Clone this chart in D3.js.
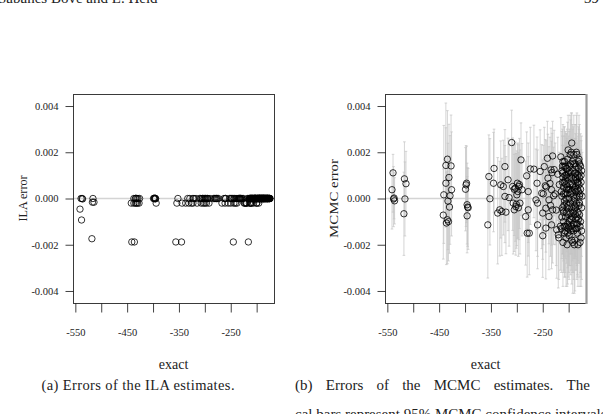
<!DOCTYPE html>
<html>
<head>
<meta charset="utf-8">
<script src="https://cdn.jsdelivr.net/npm/d3@7"></script>
<style>
body { margin:0; background:#fff; }
svg { display:block; font-family:"Liberation Serif","DejaVu Serif",serif; }
</style>
</head>
<body>
<svg id="fig" width="603" height="414"></svg>
<script>

// exact log marginal likelihood of each model (x axis, shared by both panels)
const exact = [
	-541,-539,-538,-537,-536,
	-518,-517,-516,-514,
	-442,-441,-437,-437,-436,-434,-434,-433,-432,-431,-430,-429,-427,-426,
	-399,-398,-397,-396,-396,-395,-394,
	-356,-354,-352,-345,-344,-337,-333,-331,-329,-326,
	-323,-323,-321,-317,-315,-310,-308,-307,-305,-305,
	-303,-302,-301,-300,-299,-298,-297,-296,-295,-294,
	-292,-290,-283,-281,-280,-278,-278,-276,-274,-267,
	-263,-261,-260,-260,-255,-252,-250,-250,-249,-247,
	-245,-244,-244,-243,-241,-240,-238,-238,-236,-235,
	-234,-233,-233,-232,-231,-231,-229,-228,-226,-224,
	-223,-220,
	-221,-219,-218,-216,-215,-214,-213,-212,-211,-210,
	-209,-208,-207,-206,-205,-204,-203,-202,-201,-200,
	-199,-198,-197,-196,-195,-194,-193,-192,-191,-190,
	-189,-188,-187,-186,-185,-184,-183,-182,-181,-180,
	-179,-178,-177,-176,-175,
	-214,-212,-210,-209,-207,-205,-204,-202,-200,-199,
	-197,-196,-194,-193,-191,-190,-188,-187,-186,-184,
	-183,-182,-180,-179,-178,-177,-176,-175,-174,
	-213,-211,-209,-208,-206,-205,-203,-201,-200,-198,
	-197,-195,-194,-192,-191,-189,-188,-186,-185,-184,
	-182,-181,-179,-178,-176,-175,
	-212,-210,-207,-204,-202,-199,-196,-193,-190,-187,
	-185,-183,-180,-177,-203,-195,-189,-181,
	-213,-211,-209,-207,-205,-203,-201,-199,-197,-195,
	-193,-191,-189,-187,-185,-183,-181,-179,-212,-208,
	-204,-200,-196,-192,-188,-184,-180,-210,-206,-202,
	-198,-194,-190,-186,-182,-211,-203,-195,-187,-179
];

// error of the ILA estimate
const ila_error = [
	-0.00046,0,-0.00093,0,-0.00002,
	-0.00174,-0.00016,0,-0.00016,
	-0.0002,-0.00188,0,-0.0002,-0.00188,0,-0.0002,0.00001,-0.0002,0,-0.0002,0,-0.0002,0,
	0,0,0.00002,0,-0.00002,0,-0.0002,
	-0.00188,-0.0002,0,-0.00188,-0.0002,-0.0002,0,-0.0002,0,-0.0002,
	0,-0.0002,0,0,-0.0002,0,0,-0.0002,0,0,
	-0.0002,0,0,-0.0002,0,0,-0.0002,0,0,0,
	-0.0002,0,0,0,0,0,0,0,0,-0.0002,
	0,-0.0002,0,0,-0.0002,0,-0.0002,0,0,0,
	-0.00188,-0.0002,0,0,-0.0002,0,-0.0002,0,0,0,
	0,0,0,0,0,0,0,0,0,-0.0002,
	-0.0002,-0.0002,
	-0.0002,-0.0002,0,-0.00188,0,-0.0002,0,0,-0.0002,0,
	0,0,0,-0.0002,0,0,0,0,0,-0.0002,
	0,0,0,0,0,0,0,0,0,0,
	0,0,0,0,0,0,0,0,0,0,
	0,0,0,0,0,
	0,0,-0.0002,0,0,0,0,0,0,0,
	0,0,0,0,0,0,0,0,0,0,
	0,0,0,0,0,0,0,0,0,
	0,0,0,0,0,0,0,0,0,0,
	0,0,0,0,0,0,0,0,0,0,
	0,0,0,0,0,0,
	0,0,0,0,0,0,0,0,0,0,
	0,0,0,0,0,0,0,0,
	0,0,0,0,0,0,0,0,0,0,
	0,0,0,0,0,0,0,0,-0.0002,0,
	0,-0.0002,-0.0002,0,0,0,0,0,0,0,
	0,0,0,0,0,0,0,0,0,0
];

// error of the MCMC estimate
const mcmc_error = [
	0.00038,0.00111,-0.00002,0.00002,-0.0001,
	-0.00066,0.00085,-0.00002,0.00064,
	-0.00072,0.00016,0.00143,0.00066,-0.00106,0.0017,-0.00092,-0.00011,-0.001,0.00091,-0.00037,0.00012,0.00141,0.00038,
	0.0004,0.00059,0.00066,-0.00027,-0.00075,-0.00037,-0.0004,
	-0.00114,0.00095,-0.00001,0.00066,0.0013,-0.00063,-0.00049,0.00059,-0.00056,0.00052,
	0.00138,0.00009,-0.00059,0.00081,0.00004,0.00242,0.00052,-0.0002,0.0004,-0.00049,
	0.00045,-0.00035,-0.00025,0.00016,0.00066,0.0003,-0.0004,0.00052,0.0006,-0.0002,
	0.00167,0.00038,-0.00078,0.00098,-0.0015,0.0003,-0.00049,-0.0015,0.00128,0.00127,
	-0.00006,0.00066,-0.0002,-0.00114,0.00117,0.00023,-0.00063,-0.00161,0.0002,0.00138,
	0.00055,-0.00042,-0.00128,0.0005,0.00174,0.00088,-0.00006,-0.00078,0.00065,-0.0003,
	0.00124,0.00038,-0.00114,0.00112,0.00184,-0.00049,0.00012,0.00125,0.0002,-0.0005,
	-0.00135,-0.00157,
	0.00105,-0.0017,0.0006,-0.0012,0.0018,0.0003,-0.0008,0.0011,-0.0019,0.0005,
	-0.0003,0.0016,-0.0014,0.0008,0.0000,-0.0006,0.0013,-0.0011,0.0021,0.0004,
	-0.0016,0.0009,-0.0002,0.0015,-0.0009,0.0024,0.0006,-0.0019,0.0001,0.0019,
	-0.0005,0.0011,-0.0013,0.0003,0.0020,-0.0008,0.0007,-0.0020,0.0013,-0.0003,
	0.0009,-0.0012,0.0004,-0.0017,0.0012,
	-0.0013,0.0007,-0.0010,0.0014,0.0002,-0.0017,0.0010,0.0017,-0.0007,0.0012,
	0.0006,-0.0014,-0.0004,0.0016,-0.0011,0.0008,-0.0018,0.0005,0.0014,0.0001,
	-0.0015,0.0010,0.0017,-0.0007,0.0002,-0.0010,0.0007,-0.0004,0.0001,
	0.0001,0.0009,-0.0012,-0.0001,-0.0008,0.0006,-0.0004,-0.0013,0.0011,-0.0009,
	0.0019,0.0003,-0.0018,0.0012,-0.0006,0.0004,0.0015,-0.0009,-0.0002,0.0019,
	-0.0006,0.0003,0.0015,-0.0019,0.0010,-0.0014,
	-0.0004,0.0002,0.0010,-0.0002,0.0005,0.0000,0.0002,-0.0008,-0.0001,0.0009,
	-0.0011,0.0004,0.0006,0.0014,-0.0020,0.0020,-0.0020,-0.0009,
	0.0012,-0.0005,0.0007,-0.0012,0.0013,0.0009,-0.0003,-0.0010,0.0004,0.0011,
	-0.0013,0.0015,0.0000,-0.0007,0.0008,-0.0011,0.0016,0.0001,0.0014,-0.0015,
	0.0004,-0.0012,-0.0006,0.0005,-0.0003,-0.0013,0.0011,-0.0006,0.0014,-0.0015,
	0.0014,0.0009,-0.0014,0.0011,0.0007,0.0016,0.0002,-0.0012,-0.0004,-0.0002
];

// distance from the MCMC estimate to the upper / lower 95% confidence limit
const ci_above = [
	0.0008,0.0008,0.0014,0.0011,0.0010,
	0.0018,0.0016,0.0016,0.0014,
	0.0020,0.0030,0.0027,0.0024,0.0022,0.0021,0.0021,0.0025,0.0020,0.0023,0.0022,0.0026,0.0022,0.0025,
	0.0018,0.0017,0.0016,0.0018,0.0017,0.0017,0.0017,
	0.0022,0.0018,0.0026,0.0022,0.0017,0.0024,0.0021,0.0019,0.0023,0.0020,
	0.0016,0.0022,0.0024,0.0018,0.0023,0.0014,0.0021,0.0025,0.0019,0.0024,
	0.0020,0.0023,0.0022,0.0019,0.0017,0.0021,0.0024,0.0018,0.0020,0.0023,
	0.0016,0.0020,0.0024,0.0019,0.0025,0.0021,0.0023,0.0026,0.0018,0.0019,
	0.0022,0.0020,0.0023,0.0025,0.0018,0.0021,0.0023,0.0026,0.0021,0.0017,
	0.0020,0.0022,0.0024,0.0020,0.0016,0.0019,0.0023,0.0022,0.0020,0.0023,
	0.0018,0.0021,0.0025,0.0017,0.0015,0.0024,0.0021,0.0017,0.0022,0.0023,
	0.0024,0.0022,
	0.0016,0.0019,0.0014,0.0018,0.0017,0.0015,0.0019,0.0016,0.0018,0.0014,
	0.0017,0.0015,0.0019,0.0016,0.0018,0.0014,0.0017,0.0019,0.0015,0.0016,
	0.0018,0.0014,0.0017,0.0019,0.0015,0.0013,0.0018,0.0016,0.0014,0.0017,
	0.0019,0.0015,0.0016,0.0018,0.0016,0.0014,0.0017,0.0019,0.0015,0.0018,
	0.0016,0.0014,0.0017,0.0019,0.0015,0.0018,0.0016,0.0014,0.0017,0.0019,
	0.0015,0.0018,0.0016,0.0014,0.0017,0.0019,0.0015,0.0018,0.0016,0.0014,
	0.0017,0.0019,0.0015,0.0018,0.0016,0.0014,0.0017,0.0019,0.0015,0.0018,
	0.0016,0.0014,0.0017,0.0019,0.0015,0.0018,0.0016,0.0014,0.0017,0.0019,
	0.0015,0.0018,0.0016,0.0014,0.0017,0.0019,0.0015,0.0018,0.0016,0.0014,
	0.0017,0.0019,0.0015,0.0018,0.0016,0.0014,0.0017,0.0019,0.0015,0.0018,
	0.0016,0.0014,0.0017,0.0019,0.0015,0.0018,0.0016,0.0014,0.0017,0.0019,
	0.0015,0.0018,0.0016,0.0014,0.0017,0.0017,0.0015,0.0018,
	0.0017,0.0019,0.0016,0.0018,0.0015,0.0017,0.0019,0.0016,0.0018,0.0015,
	0.0017,0.0016,0.0019,0.0018,0.0016,0.0017,0.0015,0.0019,0.0016,0.0018,
	0.0017,0.0019,0.0015,0.0018,0.0016,0.0017,0.0019,0.0016,0.0015,0.0018,
	0.0016,0.0017,0.0019,0.0015,0.0018,0.0016,0.0017,0.0019,0.0018,0.0016
];
const ci_below = [
	0.0017,0.0017,0.0012,0.0009,0.0010,
	0.0018,0.0016,0.0016,0.0014,
	0.0019,0.0021,0.0020,0.0019,0.0018,0.0020,0.0019,0.0021,0.0017,0.0020,0.0020,0.0021,0.0019,0.0020,
	0.0018,0.0018,0.0017,0.0017,0.0016,0.0017,0.0018,
	0.0023,0.0020,0.0020,0.0021,0.0019,0.0022,0.0020,0.0023,0.0019,0.0021,
	0.0024,0.0020,0.0018,0.0022,0.0021,0.0025,0.0019,0.0022,0.0020,0.0018,
	0.0023,0.0021,0.0019,0.0022,0.0024,0.0020,0.0021,0.0023,0.0019,0.0022,
	0.0024,0.0020,0.0021,0.0023,0.0019,0.0022,0.0020,0.0018,0.0024,0.0021,
	0.0022,0.0020,0.0023,0.0019,0.0021,0.0024,0.0020,0.0018,0.0022,0.0023,
	0.0021,0.0019,0.0022,0.0020,0.0024,0.0021,0.0019,0.0023,0.0020,0.0022,
	0.0021,0.0024,0.0019,0.0022,0.0020,0.0023,0.0021,0.0020,0.0022,0.0024,
	0.0021,0.0023,
	0.0020,0.0018,0.0022,0.0019,0.0021,0.0020,0.0018,0.0022,0.0019,0.0021,
	0.0022,0.0019,0.0020,0.0021,0.0018,0.0022,0.0020,0.0019,0.0021,0.0018,
	0.0019,0.0021,0.0022,0.0018,0.0020,0.0021,0.0019,0.0022,0.0020,0.0018,
	0.0021,0.0020,0.0018,0.0022,0.0019,0.0021,0.0020,0.0018,0.0022,0.0019,
	0.0018,0.0022,0.0019,0.0021,0.0020,0.0019,0.0021,0.0022,0.0018,0.0020,
	0.0021,0.0019,0.0020,0.0022,0.0018,0.0021,0.0019,0.0020,0.0022,0.0021,
	0.0019,0.0022,0.0018,0.0020,0.0021,0.0019,0.0022,0.0018,0.0021,0.0020,
	0.0022,0.0018,0.0021,0.0019,0.0020,0.0022,0.0019,0.0021,0.0018,0.0020,
	0.0019,0.0021,0.0022,0.0020,0.0018,0.0021,0.0019,0.0022,0.0020,0.0018,
	0.0021,0.0019,0.0020,0.0022,0.0021,0.0018,0.0020,0.0019,0.0022,0.0021,
	0.0020,0.0022,0.0019,0.0018,0.0021,0.0020,0.0022,0.0019,0.0021,0.0018,
	0.0020,0.0019,0.0021,0.0022,0.0018,0.0020,0.0021,0.0019,
	0.0021,0.0019,0.0022,0.0020,0.0018,0.0021,0.0022,0.0019,0.0020,0.0021,
	0.0019,0.0022,0.0020,0.0018,0.0021,0.0022,0.0019,0.0020,0.0021,0.0019,
	0.0022,0.0020,0.0018,0.0021,0.0019,0.0022,0.0020,0.0021,0.0019,0.0022,
	0.0020,0.0018,0.0021,0.0019,0.0022,0.0020,0.0021,0.0019,0.0022,0.0020
];

const x_ticks = [-550,-500,-450,-400,-350,-300,-250,-200];
const x_tick_labels = [-550,-450,-350,-250];
const y_ticks = [-0.004,-0.002,0,0.002,0.004];

const svg = d3.select('#fig');
svg.append('rect').attr('width',603).attr('height',414).attr('fill','#fff');

const box_w = 201, box_top = 94, box_bottom = 303;

const draw_panel = function(left, y_values, y_label, label_x, label_len, with_ci){

	const x = d3.scaleLinear().domain([-554.5,-166.5]).range([left,left+box_w]);
	const y = d3.scaleLinear().domain([-0.00452,0.00452]).range([box_bottom,box_top]);
	const g = svg.append('g');

	g.append('line')
		.attr('x1',left).attr('x2',left+box_w)
		.attr('y1',y(0)).attr('y2',y(0))
		.attr('stroke','#d4d4d4')
		.attr('stroke-width',1.3)

	const idx = d3.range(exact.length);

	if(with_ci){
		const bars = g.append('g')
			.attr('stroke','#c4c4c4')
			.attr('stroke-width',0.8)
			.attr('stroke-opacity',0.9);
		idx.forEach(function(i){
			const bx = x(exact[i]);
			const hi = y(y_values[i] + ci_above[i]);
			const lo = y(y_values[i] - ci_below[i]);
			bars.append('path')
				.attr('d',`M${bx},${hi}L${bx},${lo}M${bx-1.3},${hi}L${bx+1.3},${hi}M${bx-1.3},${lo}L${bx+1.3},${lo}`)
				.attr('fill','none');
		});
	}

	g.append('g').selectAll('circle')
			.data(idx)
			.enter()
		.append('circle')
			.attr('cx', i => x(exact[i]))
			.attr('cy', i => y(y_values[i]))
			.attr('r',3.2)
			.attr('fill','none')
			.attr('stroke','#000')
			.attr('stroke-width',0.8)

	g.append('rect')
		.attr('x',left+0.5).attr('y',box_top+0.5)
		.attr('width',box_w).attr('height',box_bottom-box_top)
		.attr('fill','none')
		.attr('stroke','#3a3a3a')
		.attr('stroke-width',1)

	const x_axis = g.append('g')
		.attr('transform',`translate(0,${box_bottom+0.5})`)
		.call(d3.axisBottom(x)
			.tickValues(x_ticks)
			.tickSizeInner(9).tickSizeOuter(0)
			.tickPadding(16)
			.tickFormat(d => x_tick_labels.includes(d) ? String(d) : ''));

	const y_axis = g.append('g')
		.attr('transform',`translate(${left+0.5},0)`)
		.call(d3.axisLeft(y)
			.tickValues(y_ticks)
			.tickSizeInner(8).tickSizeOuter(0)
			.tickPadding(7)
			.tickFormat(d => d.toFixed(3)));

	[x_axis,y_axis].forEach(function(a){
		a.select('.domain').remove();
		a.selectAll('line').attr('stroke','#111').attr('stroke-width',0.8);
		a.selectAll('text')
			.attr('font-family','"Liberation Serif","DejaVu Serif",serif')
			.attr('font-size',10.5)
			.attr('fill','#222');
	});

	g.append('text')
		.attr('x',left+box_w/2).attr('y',369)
		.attr('text-anchor','middle')
		.attr('font-size',14)
		.attr('fill','#222')
		.text('exact');

	g.append('text')
		.attr('transform',`translate(${label_x},${(box_top+box_bottom)/2}) rotate(-90)`)
		.attr('text-anchor','middle')
		.attr('font-size',13.5)
		.attr('fill','#222')
		.attr('textLength',label_len)
		.attr('lengthAdjust','spacingAndGlyphs')
		.text(y_label);

	return g;
};

draw_panel(73, ila_error, 'ILA error', 26.5, 46, false);
const right = draw_panel(385, mcmc_error, 'MCMC error', 337.5, 79, true);

right.append('line')
	.attr('x1',586.5).attr('x2',586.5)
	.attr('y1',box_top).attr('y2',box_bottom+1)
	.attr('stroke','#9a9a9a')
	.attr('stroke-width',2.2)

// running head and captions of the page
svg.append('text')
	.attr('x',-2).attr('y',3)
	.attr('font-size',15)
	.attr('fill','#222')
	.text('Sabanés Bové and L. Held');

svg.append('text')
	.attr('x',599).attr('y',3)
	.attr('text-anchor','end')
	.attr('font-size',15)
	.attr('fill','#222')
	.text('39');

svg.append('text')
	.attr('x',41.5).attr('y',390)
	.attr('font-size',14.5)
	.attr('fill','#222')
	.attr('textLength',193)
	.text('(a) Errors of the ILA estimates.');

// justified first line of caption (b): equal gaps so that "The" lands at 566.5
const cap_b_words = ['(b)','Errors','of','the','MCMC','estimates.','The','verti-'];
const cap_b = svg.append('text')
	.attr('y',390)
	.attr('font-size',15)
	.attr('fill','#222');
const spans = cap_b_words.map(w => cap_b.append('tspan').text(w));
const widths = spans.map(s => s.node().getComputedTextLength());
const gap = (566.5 - 295 - d3.sum(widths.slice(0,6))) / 6;
let cx = 295;
spans.forEach(function(s,i){
	s.attr('x',cx);
	cx += widths[i] + gap;
});

svg.append('text')
	.attr('x',295).attr('y',419)
	.attr('font-size',15)
	.attr('fill','#222')
	.text('cal bars represent 95% MCMC confidence intervals.');

</script>
</body>
</html>
